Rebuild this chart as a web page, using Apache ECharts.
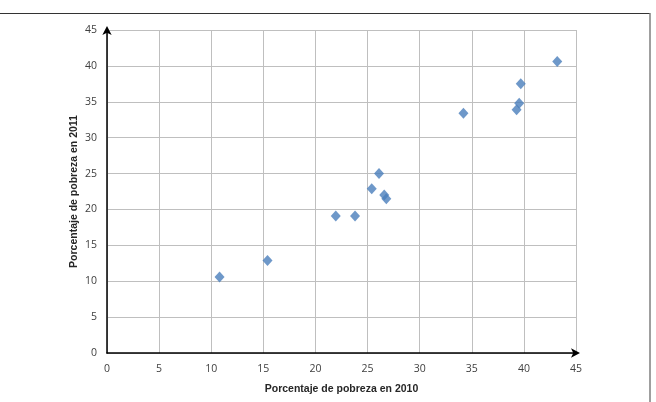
<!DOCTYPE html>
<html>
<head>
<meta charset="utf-8">
<script src="https://cdn.jsdelivr.net/npm/echarts@6/dist/echarts.min.js"></script>
<style>
  html, body { margin: 0; padding: 0; background: #fff; }
  #chart { width: 656px; height: 402px; }
</style>
</head>
<body>
<div id="chart"></div>
<script>
// pobreza 2010 vs 2011
var pobreza2010 = [10.8, 15.4, 21.95, 23.8, 25.4, 26.1, 26.6, 26.8, 34.2, 39.3, 39.55, 39.7, 43.2];
var pobreza2011 = [10.6, 12.9, 19.1, 19.1, 22.9, 25.0, 22.0, 21.5, 33.4, 33.9, 34.8, 37.5, 40.6];
var xName = 'Porcentaje de pobreza en 2010';
var yName = 'Porcentaje de pobreza en 2011';

var puntos = pobreza2010.map(function (x, i) {
    return [x, pobreza2011[i]];
});

var chart = echarts.init(document.getElementById('chart'));
var option = {
    animation: false,
    grid: {
        left: 107,
        right: 80,
        top: 30,
        bottom: 49
    },
    xAxis: {
        type: 'value',
        min: 0,
        max: 45,
        interval: 5,
        name: xName,
        nameLocation: 'middle',
        nameGap: 31,
        nameMoveOverlap: false,
        nameTextStyle: {
            fontFamily: 'Liberation Sans',
            fontWeight: 'bold',
            fontSize: 10.5,
            color: '#262626'
        },
        axisLine: {
            lineStyle: { color: '#000', width: 1.5 },
            symbol: ['none', 'arrow'],
            symbolSize: [7, 9],
            symbolOffset: [0, 4]
        },
        axisTick: { show: false },
        axisLabel: {
            margin: 11,
            fontFamily: 'Open Sans',
            fontSize: 10.5,
            color: '#404040'
        },
        splitLine: { lineStyle: { color: '#bfbfbf' } }
    },
    yAxis: {
        type: 'value',
        min: 0,
        max: 45,
        interval: 5,
        name: yName,
        nameLocation: 'middle',
        nameGap: 27,
        nameMoveOverlap: false,
        nameTextStyle: {
            fontFamily: 'Liberation Sans',
            fontWeight: 'bold',
            fontSize: 10.5,
            color: '#262626'
        },
        axisLine: {
            lineStyle: { color: '#000', width: 1.5 },
            symbol: ['none', 'arrow'],
            symbolSize: [7, 9],
            symbolOffset: [0, 4]
        },
        axisTick: { show: false },
        axisLabel: {
            margin: 10,
            fontFamily: 'Open Sans',
            fontSize: 10.5,
            color: '#404040'
        },
        splitLine: { lineStyle: { color: '#bfbfbf' } }
    },
    series: [{
        type: 'scatter',
        symbol: 'diamond',
        symbolSize: [10, 11],
        itemStyle: { color: '#4a7ebb' },
        data: puntos
    }],
    graphic: [
        // marco del gráfico
        {
            type: 'line',
            shape: { x1: 0, y1: 13.5, x2: 650, y2: 13.5 },
            style: { stroke: '#333', lineWidth: 1 }
        },
        {
            type: 'line',
            shape: { x1: 650, y1: 13, x2: 650, y2: 402 },
            style: { stroke: '#7f7f7f', lineWidth: 1.5 }
        }
    ]
};
chart.setOption(option);
</script>
</body>
</html>
